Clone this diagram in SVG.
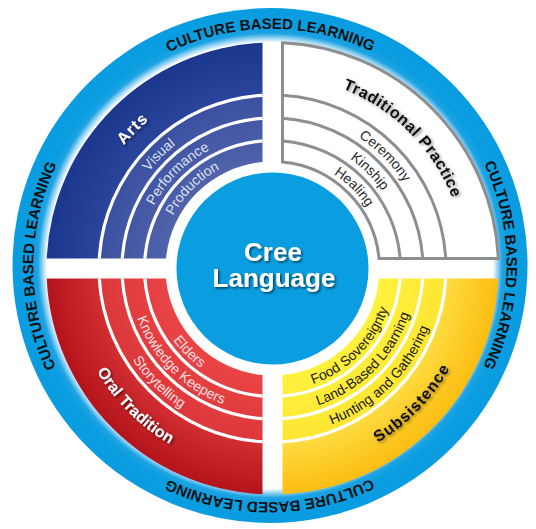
<svg xmlns="http://www.w3.org/2000/svg" xmlns:xlink="http://www.w3.org/1999/xlink" width="536" height="529" viewBox="0 0 536 529">
<defs>
<style>
.rt{font-family:"Liberation Sans",Arial,sans-serif;font-weight:bold;font-size:15px;fill:#111;}
.lbl{font-family:"Liberation Sans",Arial,sans-serif;font-weight:bold;font-size:16px;}
.bd{font-family:"Liberation Sans",Arial,sans-serif;font-size:14px;}
.sep{fill:none;stroke:#fff;stroke-width:3.2;}
.gsep{fill:none;stroke:#8d8e90;stroke-width:3;}
</style>
<radialGradient id="ringG" gradientUnits="userSpaceOnUse" cx="270" cy="265.5" r="257.5">
<stop offset="0" stop-color="#fff"/>
<stop offset="0.866" stop-color="#fff"/>
<stop offset="0.885" stop-color="#8ccff2"/>
<stop offset="0.902" stop-color="#1ea3e2"/>
<stop offset="0.93" stop-color="#0a9de0"/>
<stop offset="1" stop-color="#0a9ce0"/>
</radialGradient>
<radialGradient id="artsG" gradientUnits="userSpaceOnUse" cx="272.5" cy="268.5" r="226">
<stop offset="0.47" stop-color="#5063ab"/>
<stop offset="0.765" stop-color="#3b50a0"/>
<stop offset="0.768" stop-color="#2a459b"/>
<stop offset="1" stop-color="#1b388e"/>
</radialGradient>
<radialGradient id="oralG" gradientUnits="userSpaceOnUse" cx="272.5" cy="268.5" r="226">
<stop offset="0.47" stop-color="#ea4446"/>
<stop offset="0.765" stop-color="#dc373a"/>
<stop offset="0.768" stop-color="#d22e32"/>
<stop offset="1" stop-color="#b3141b"/>
</radialGradient>
<radialGradient id="subG" gradientUnits="userSpaceOnUse" cx="272.5" cy="268.5" r="226">
<stop offset="0.47" stop-color="#fff23c"/>
<stop offset="0.765" stop-color="#fde634"/>
<stop offset="0.768" stop-color="#fedc40"/>
<stop offset="1" stop-color="#fbbd12"/>
</radialGradient>
<filter id="shW" x="-20%" y="-20%" width="140%" height="140%">
<feDropShadow dx="1.5" dy="1.5" stdDeviation="1" flood-color="#000" flood-opacity="0.6"/>
</filter>
<filter id="shB" x="-20%" y="-20%" width="140%" height="140%">
<feDropShadow dx="1.5" dy="1.5" stdDeviation="1.4" flood-color="#000" flood-opacity="0.45"/>
</filter>
<path id="ringP" d="M 103.48 98.98 A 235.5 235.5 0 1 1 436.52 432.02 A 235.5 235.5 0 1 1 103.48 98.98"/>
<path id="pArts" d="M 80.23 285.32 A 193 193 0 0 1 289.32 76.23"/>
<path id="pVis" d="M 116.10 282.18 A 157 157 0 0 1 286.18 112.10"/>
<path id="pPerf" d="M 138.71 280.21 A 134.3 134.3 0 0 1 284.21 134.71"/>
<path id="pProd" d="M 160.43 278.31 A 112.5 112.5 0 0 1 282.31 156.43"/>
<path id="pTrad" d="M 255.68 76.23 A 193 193 0 0 1 464.77 285.32"/>
<path id="pCer" d="M 258.82 112.10 A 157 157 0 0 1 428.90 282.18"/>
<path id="pKin" d="M 260.79 134.71 A 134.3 134.3 0 0 1 406.29 280.21"/>
<path id="pHeal" d="M 262.69 156.43 A 112.5 112.5 0 0 1 384.57 278.31"/>
<path id="pOral" d="M 69.78 250.76 A 203.5 203.5 0 0 0 290.24 471.22"/>
<path id="pStory" d="M 106.14 253.94 A 167 167 0 0 0 287.06 434.86"/>
<path id="pKnow" d="M 128.75 255.92 A 144.3 144.3 0 0 0 285.08 412.25"/>
<path id="pEld" d="M 150.47 257.82 A 122.5 122.5 0 0 0 283.18 390.53"/>
<path id="pSub" d="M 254.76 471.22 A 203.5 203.5 0 0 0 475.22 250.76"/>
<path id="pHunt" d="M 257.94 434.86 A 167 167 0 0 0 438.86 253.94"/>
<path id="pLand" d="M 259.92 412.25 A 144.3 144.3 0 0 0 416.25 255.92"/>
<path id="pFood" d="M 261.82 390.53 A 122.5 122.5 0 0 0 394.53 257.82"/>
</defs>

<g id="ring">
<circle cx="270" cy="265.5" r="257.5" fill="url(#ringG)"/>
<text class="rt" text-anchor="middle"><textPath xlink:href="#ringP" href="#ringP" startOffset="12.5%">CULTURE BASED LEARNING</textPath></text>
<text class="rt" text-anchor="middle"><textPath xlink:href="#ringP" href="#ringP" startOffset="37.5%">CULTURE BASED LEARNING</textPath></text>
<text class="rt" text-anchor="middle"><textPath xlink:href="#ringP" href="#ringP" startOffset="62.5%">CULTURE BASED LEARNING</textPath></text>
<text class="rt" text-anchor="middle"><textPath xlink:href="#ringP" href="#ringP" startOffset="87.5%">CULTURE BASED LEARNING</textPath></text>
</g>

<g id="arts">
<path d="M 262.5 42.72 A 226 226 0 0 0 46.72 258.5 L 165.97 258.5 A 107 107 0 0 1 262.5 161.97 Z" fill="url(#artsG)"/>
<path class="sep" d="M 262.5 140.89 A 128 128 0 0 0 144.89 258.5"/>
<path class="sep" d="M 262.5 118.33 A 150.5 150.5 0 0 0 122.33 258.5"/>
<path class="sep" d="M 262.5 95.29 A 173.5 173.5 0 0 0 99.29 258.5"/>
<text class="lbl" fill="#fff" filter="url(#shW)" letter-spacing="1" text-anchor="middle"><textPath xlink:href="#pArts" href="#pArts" startOffset="50%">Arts</textPath></text>
<text class="bd" fill="#dde2f1" text-anchor="middle"><textPath xlink:href="#pVis" href="#pVis" startOffset="50%">Visual</textPath></text>
<text class="bd" fill="#dde2f1" text-anchor="middle"><textPath xlink:href="#pPerf" href="#pPerf" startOffset="50%">Performance</textPath></text>
<text class="bd" fill="#dde2f1" text-anchor="middle"><textPath xlink:href="#pProd" href="#pProd" startOffset="50%">Production</textPath></text>
</g>

<g id="traditional">
<path d="M 282.5 42.72 A 226 226 0 0 1 498.28 258.5 L 379.03 258.5 A 107 107 0 0 0 282.5 161.97 Z" fill="#fff" stroke="#8d8e90" stroke-width="3"/>
<path class="gsep" d="M 282.5 140.89 A 128 128 0 0 1 400.11 258.5"/>
<path class="gsep" d="M 282.5 118.33 A 150.5 150.5 0 0 1 422.67 258.5"/>
<path class="gsep" d="M 282.5 95.29 A 173.5 173.5 0 0 1 445.71 258.5"/>
<text class="lbl" fill="#111" filter="url(#shB)" letter-spacing="0.6" text-anchor="middle"><textPath xlink:href="#pTrad" href="#pTrad" startOffset="50%">Traditional Practice</textPath></text>
<text class="bd" fill="#2a2a2a" text-anchor="middle"><textPath xlink:href="#pCer" href="#pCer" startOffset="50%">Ceremony</textPath></text>
<text class="bd" fill="#2a2a2a" text-anchor="middle"><textPath xlink:href="#pKin" href="#pKin" startOffset="50%">Kinship</textPath></text>
<text class="bd" fill="#2a2a2a" text-anchor="middle"><textPath xlink:href="#pHeal" href="#pHeal" startOffset="50%">Healing</textPath></text>
</g>

<g id="oral">
<path d="M 46.72 278.5 A 226 226 0 0 0 262.5 494.28 L 262.5 375.03 A 107 107 0 0 1 165.97 278.5 Z" fill="url(#oralG)"/>
<path class="sep" d="M 144.89 278.5 A 128 128 0 0 0 262.5 396.11"/>
<path class="sep" d="M 122.33 278.5 A 150.5 150.5 0 0 0 262.5 418.67"/>
<path class="sep" d="M 99.29 278.5 A 173.5 173.5 0 0 0 262.5 441.71"/>
<text class="lbl" fill="#fff" filter="url(#shW)" text-anchor="middle"><textPath xlink:href="#pOral" href="#pOral" startOffset="50%">Oral Tradition</textPath></text>
<text class="bd" fill="#fbe0e0" text-anchor="middle"><textPath xlink:href="#pStory" href="#pStory" startOffset="50%">Storytelling</textPath></text>
<text class="bd" fill="#fbe0e0" text-anchor="middle"><textPath xlink:href="#pKnow" href="#pKnow" startOffset="50%">Knowledge Keepers</textPath></text>
<text class="bd" fill="#fbe0e0" text-anchor="middle"><textPath xlink:href="#pEld" href="#pEld" startOffset="50%">Elders</textPath></text>
</g>

<g id="subsistence">
<path d="M 282.5 494.28 A 226 226 0 0 0 498.28 278.5 L 379.03 278.5 A 107 107 0 0 1 282.5 375.03 Z" fill="url(#subG)"/>
<path class="sep" d="M 282.5 396.11 A 128 128 0 0 0 400.11 278.5"/>
<path class="sep" d="M 282.5 418.67 A 150.5 150.5 0 0 0 422.67 278.5"/>
<path class="sep" d="M 282.5 441.71 A 173.5 173.5 0 0 0 445.71 278.5"/>
<text class="lbl" fill="#111" filter="url(#shB)" letter-spacing="1" text-anchor="middle"><textPath xlink:href="#pSub" href="#pSub" startOffset="51%">Subsistence</textPath></text>
<text class="bd" fill="#1a1a1a" text-anchor="middle"><textPath xlink:href="#pHunt" href="#pHunt" startOffset="50%">Hunting and Gathering</textPath></text>
<text class="bd" fill="#1a1a1a" text-anchor="middle"><textPath xlink:href="#pLand" href="#pLand" startOffset="50%">Land-Based Learning</textPath></text>
<text class="bd" fill="#1a1a1a" text-anchor="middle"><textPath xlink:href="#pFood" href="#pFood" startOffset="50%">Food Sovereignty</textPath></text>
</g>

<g id="center">
<circle cx="272.5" cy="268.5" r="96" fill="#0a9de0"/>
<g font-family="'Liberation Sans',Arial,sans-serif" font-weight="bold" font-size="26" fill="#fff" text-anchor="middle" filter="url(#shW)">
<text x="273" y="261">Cree</text>
<text x="274" y="287">Language</text>
</g>
</g>
</svg>
